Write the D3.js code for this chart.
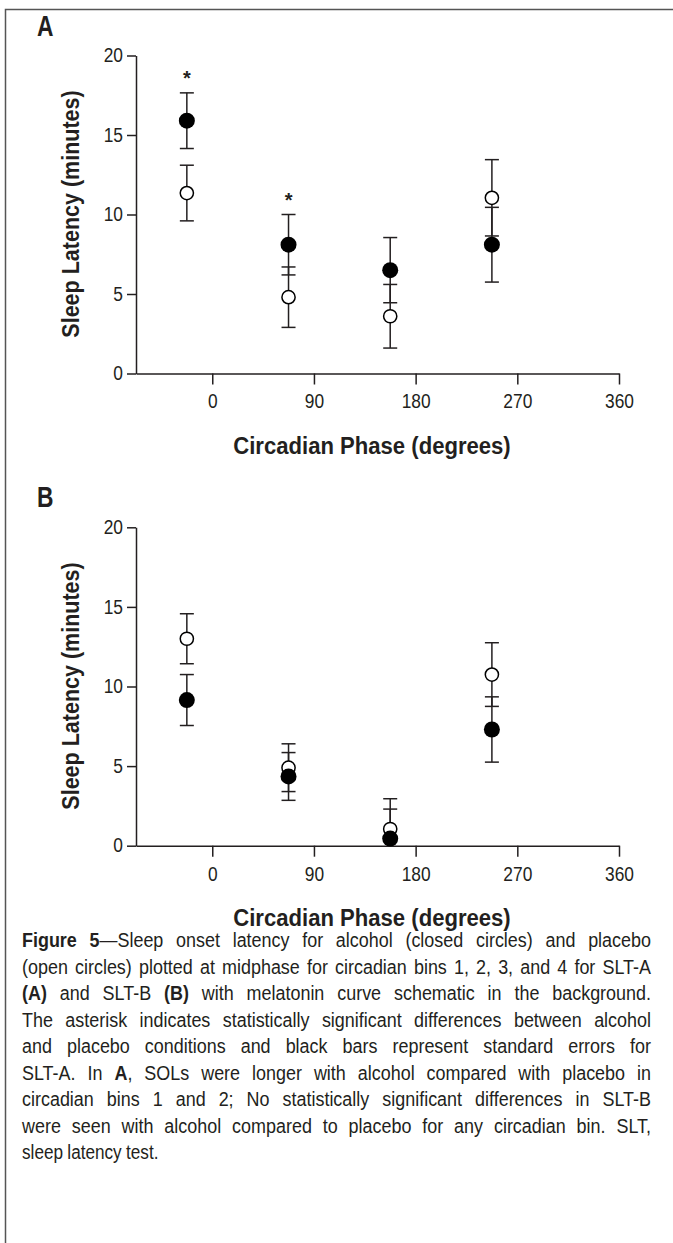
<!DOCTYPE html>
<html>
<head>
<meta charset="utf-8">
<script src="https://cdn.jsdelivr.net/npm/d3@7"></script>
<style>
  html, body { margin: 0; padding: 0; background: #fff; }
  svg { display: block; }
  text { font-family: "Liberation Sans", Arial, sans-serif; fill: #231f20; }
</style>
</head>
<body>
<svg id="chart" width="673" height="1243"></svg>
<script>
// ---------- data ----------
const binPhase = [-22.5, 67.5, 157.5, 247.5];   // midphase of circadian bins 1-4
const xTicks = [0, 90, 180, 270, 360];
const yTicks = [0, 5, 10, 15, 20];

// Panel A (SLT-A)
const aAlcohol   = [15.9, 8.1, 6.5, 8.1];
const aAlcoholSE = [1.75, 1.9, 2.05, 2.35];
const aPlacebo   = [11.35, 4.8, 3.6, 11.05];
const aPlaceboSE = [1.75, 1.9, 2.0, 2.4];
const aSignificant = [true, true, false, false];

// Panel B (SLT-B)
const bAlcohol   = [9.15, 4.35, 0.45, 7.3];
const bAlcoholSE = [1.6, 1.5, 1.85, 2.05];
const bPlacebo   = [13.0, 4.9, 1.05, 10.75];
const bPlaceboSE = [1.57, 1.5, 1.9, 2.0];
const bSignificant = [false, false, false, false];

const panelLabels = ["A", "B"];
const yAxisTitle = "Sleep Latency (minutes)";
const xAxisTitle = "Circadian Phase (degrees)";

const captionLines = [
  "**Figure 5**—Sleep onset latency for alcohol (closed circles) and placebo",
  "(open circles) plotted at midphase for circadian bins 1, 2, 3, and 4 for SLT-A",
  "**(A)** and SLT-B **(B)** with melatonin curve schematic in the background.",
  "The asterisk indicates statistically significant differences between alcohol",
  "and placebo conditions and black bars represent standard errors for",
  "SLT-A. In **A**, SOLs were longer with alcohol compared with placebo in",
  "circadian bins 1 and 2; No statistically significant differences in SLT-B",
  "were seen with alcohol compared to placebo for any circadian bin. SLT,",
  "sleep latency test."
];

// ---------- drawing ----------
const svg = d3.select("#chart");
const ink = "#231f20";

// condense text horizontally (narrow typeface look)
function narrow(sel, f) {
  sel.each(function () {
    const w = this.getComputedTextLength();
    d3.select(this).attr("textLength", w * f).attr("lengthAdjust", "spacingAndGlyphs");
  });
}

// frame
svg.append("path")
  .attr("d", "M5.5,1243 L5.5,9.5 L673,9.5")
  .attr("fill", "none").attr("stroke", "#555").attr("stroke-width", 1.5);

const x = d3.scaleLinear().domain([-67.5, 360]).range([136, 619]);

function panel(cfg) {
  const y = d3.scaleLinear().domain([0, 20]).range([cfg.y0, cfg.y20]);
  const g = svg.append("g");

  // panel letter
  narrow(g.append("text").attr("x", 37).attr("y", cfg.letterY)
    .attr("font-size", 30).attr("font-weight", "bold").text(cfg.letter), 0.76);

  // y axis
  const ya = g.append("g").attr("transform", `translate(${x.range()[0]},0)`)
    .call(d3.axisLeft(y).tickValues(yTicks).tickSize(9).tickSizeOuter(0).tickPadding(4).tickFormat(d3.format("d")));
  // x axis
  const xa = g.append("g").attr("transform", `translate(0,${cfg.y0})`)
    .call(d3.axisBottom(x).tickValues(xTicks).tickSize(11).tickSizeOuter(0).tickPadding(10).tickFormat(d3.format("d")));
  [ya, xa].forEach(a => {
    a.selectAll("path,line").attr("stroke", ink).attr("stroke-width", 1.5);
    const t = a.selectAll("text").attr("font-size", 19.5).attr("fill", ink)
      .style("font-family", '"Liberation Sans", Arial, sans-serif');
    narrow(t, 0.89);
  });

  // axis titles
  narrow(g.append("text")
    .attr("transform", `translate(79,${(cfg.y0 + cfg.y20) / 2 - 0.5}) rotate(-90)`)
    .attr("text-anchor", "middle").attr("font-size", 23.5).attr("font-weight", "bold")
    .text(yAxisTitle), 0.915);
  narrow(g.append("text").attr("x", 372).attr("y", cfg.y0 + 80)
    .attr("text-anchor", "middle").attr("font-size", 23.5).attr("font-weight", "bold")
    .text(xAxisTitle), 0.94);

  const series = [
    { vals: cfg.placebo, se: cfg.placeboSE, filled: false },
    { vals: cfg.alcohol, se: cfg.alcoholSE, filled: true }
  ];
  const capHalf = 7;

  // error bars (clipped at 0)
  series.forEach(s => {
    s.vals.forEach((v, i) => {
      const cx = x(binPhase[i]);
      const hi = v + s.se[i], lo = Math.max(0, v - s.se[i]);
      g.append("line").attr("x1", cx).attr("x2", cx)
        .attr("y1", y(hi)).attr("y2", y(lo))
        .attr("stroke", ink).attr("stroke-width", 1.5);
      g.append("line").attr("x1", cx - capHalf).attr("x2", cx + capHalf)
        .attr("y1", y(hi)).attr("y2", y(hi))
        .attr("stroke", ink).attr("stroke-width", 1.5);
      if (v - s.se[i] > 0) {
        g.append("line").attr("x1", cx - capHalf).attr("x2", cx + capHalf)
          .attr("y1", y(lo)).attr("y2", y(lo))
          .attr("stroke", ink).attr("stroke-width", 1.5);
      }
    });
  });

  // markers
  series.forEach(s => {
    s.vals.forEach((v, i) => {
      g.append("circle").attr("cx", x(binPhase[i])).attr("cy", y(v))
        .attr("r", s.filled ? 8 : 6.6)
        .attr("fill", s.filled ? "#000" : "#fff")
        .attr("stroke", "#000").attr("stroke-width", s.filled ? 0 : 1.5);
    });
  });

  // significance asterisks
  cfg.sig.forEach((sig, i) => {
    if (!sig) return;
    const top = Math.max(cfg.alcohol[i] + cfg.alcoholSE[i], cfg.placebo[i] + cfg.placeboSE[i]);
    g.append("text").attr("x", x(binPhase[i])).attr("y", y(top) - 8)
      .attr("text-anchor", "middle").attr("font-size", 20).attr("font-weight", "bold")
      .text("*");
  });
}

panel({ letter: panelLabels[0], letterY: 36, y0: 373.5, y20: 55.5,
  alcohol: aAlcohol, alcoholSE: aAlcoholSE, placebo: aPlacebo, placeboSE: aPlaceboSE, sig: aSignificant });
panel({ letter: panelLabels[1], letterY: 507, y0: 845.7, y20: 527.3,
  alcohol: bAlcohol, alcoholSE: bAlcoholSE, placebo: bPlacebo, placeboSE: bPlaceboSE, sig: bSignificant });

// ---------- caption (justified) ----------
const capLeft = 22, capRight = 651, capTop = 947, capStep = 26.5, capSize = 19.5, capFactor = 0.92, minGap = 3.5;
function parseLine(str) {
  const words = [];
  let bold = false, cur = [], buf = "";
  const flush = () => { if (buf) { cur.push({ t: buf, b: bold }); buf = ""; } };
  for (let k = 0; k < str.length; k++) {
    if (str[k] === "*" && str[k + 1] === "*") { flush(); bold = !bold; k++; continue; }
    if (str[k] === " ") { flush(); if (cur.length) words.push(cur); cur = []; continue; }
    buf += str[k];
  }
  flush(); if (cur.length) words.push(cur);
  return words;
}
const cap = svg.append("g");
captionLines.forEach((line, li) => {
  const words = parseLine(line);
  const yy = capTop + li * capStep;
  const nodes = words.map(w => {
    const t = cap.append("text").attr("y", yy).attr("font-size", capSize);
    w.forEach(r => t.append("tspan").attr("font-weight", r.b ? "bold" : "normal").text(r.t));
    return t;
  });
  const widths = nodes.map(n => n.node().getComputedTextLength());
  const total = d3.sum(widths);
  const last = li === captionLines.length - 1;
  const avail = capRight - capLeft;
  let f = capFactor, gap;
  if (last) {
    f = 0.88;
    gap = capSize * 0.22;
  } else {
    gap = (avail - total * f) / (words.length - 1);
    if (gap < minGap) { gap = minGap; f = (avail - gap * (words.length - 1)) / total; }
  }
  let cx = capLeft;
  nodes.forEach((n, i) => {
    const w = widths[i] * f;
    n.attr("x", cx).attr("textLength", w).attr("lengthAdjust", "spacingAndGlyphs");
    cx += w + gap;
  });
});
</script>
</body>
</html>
